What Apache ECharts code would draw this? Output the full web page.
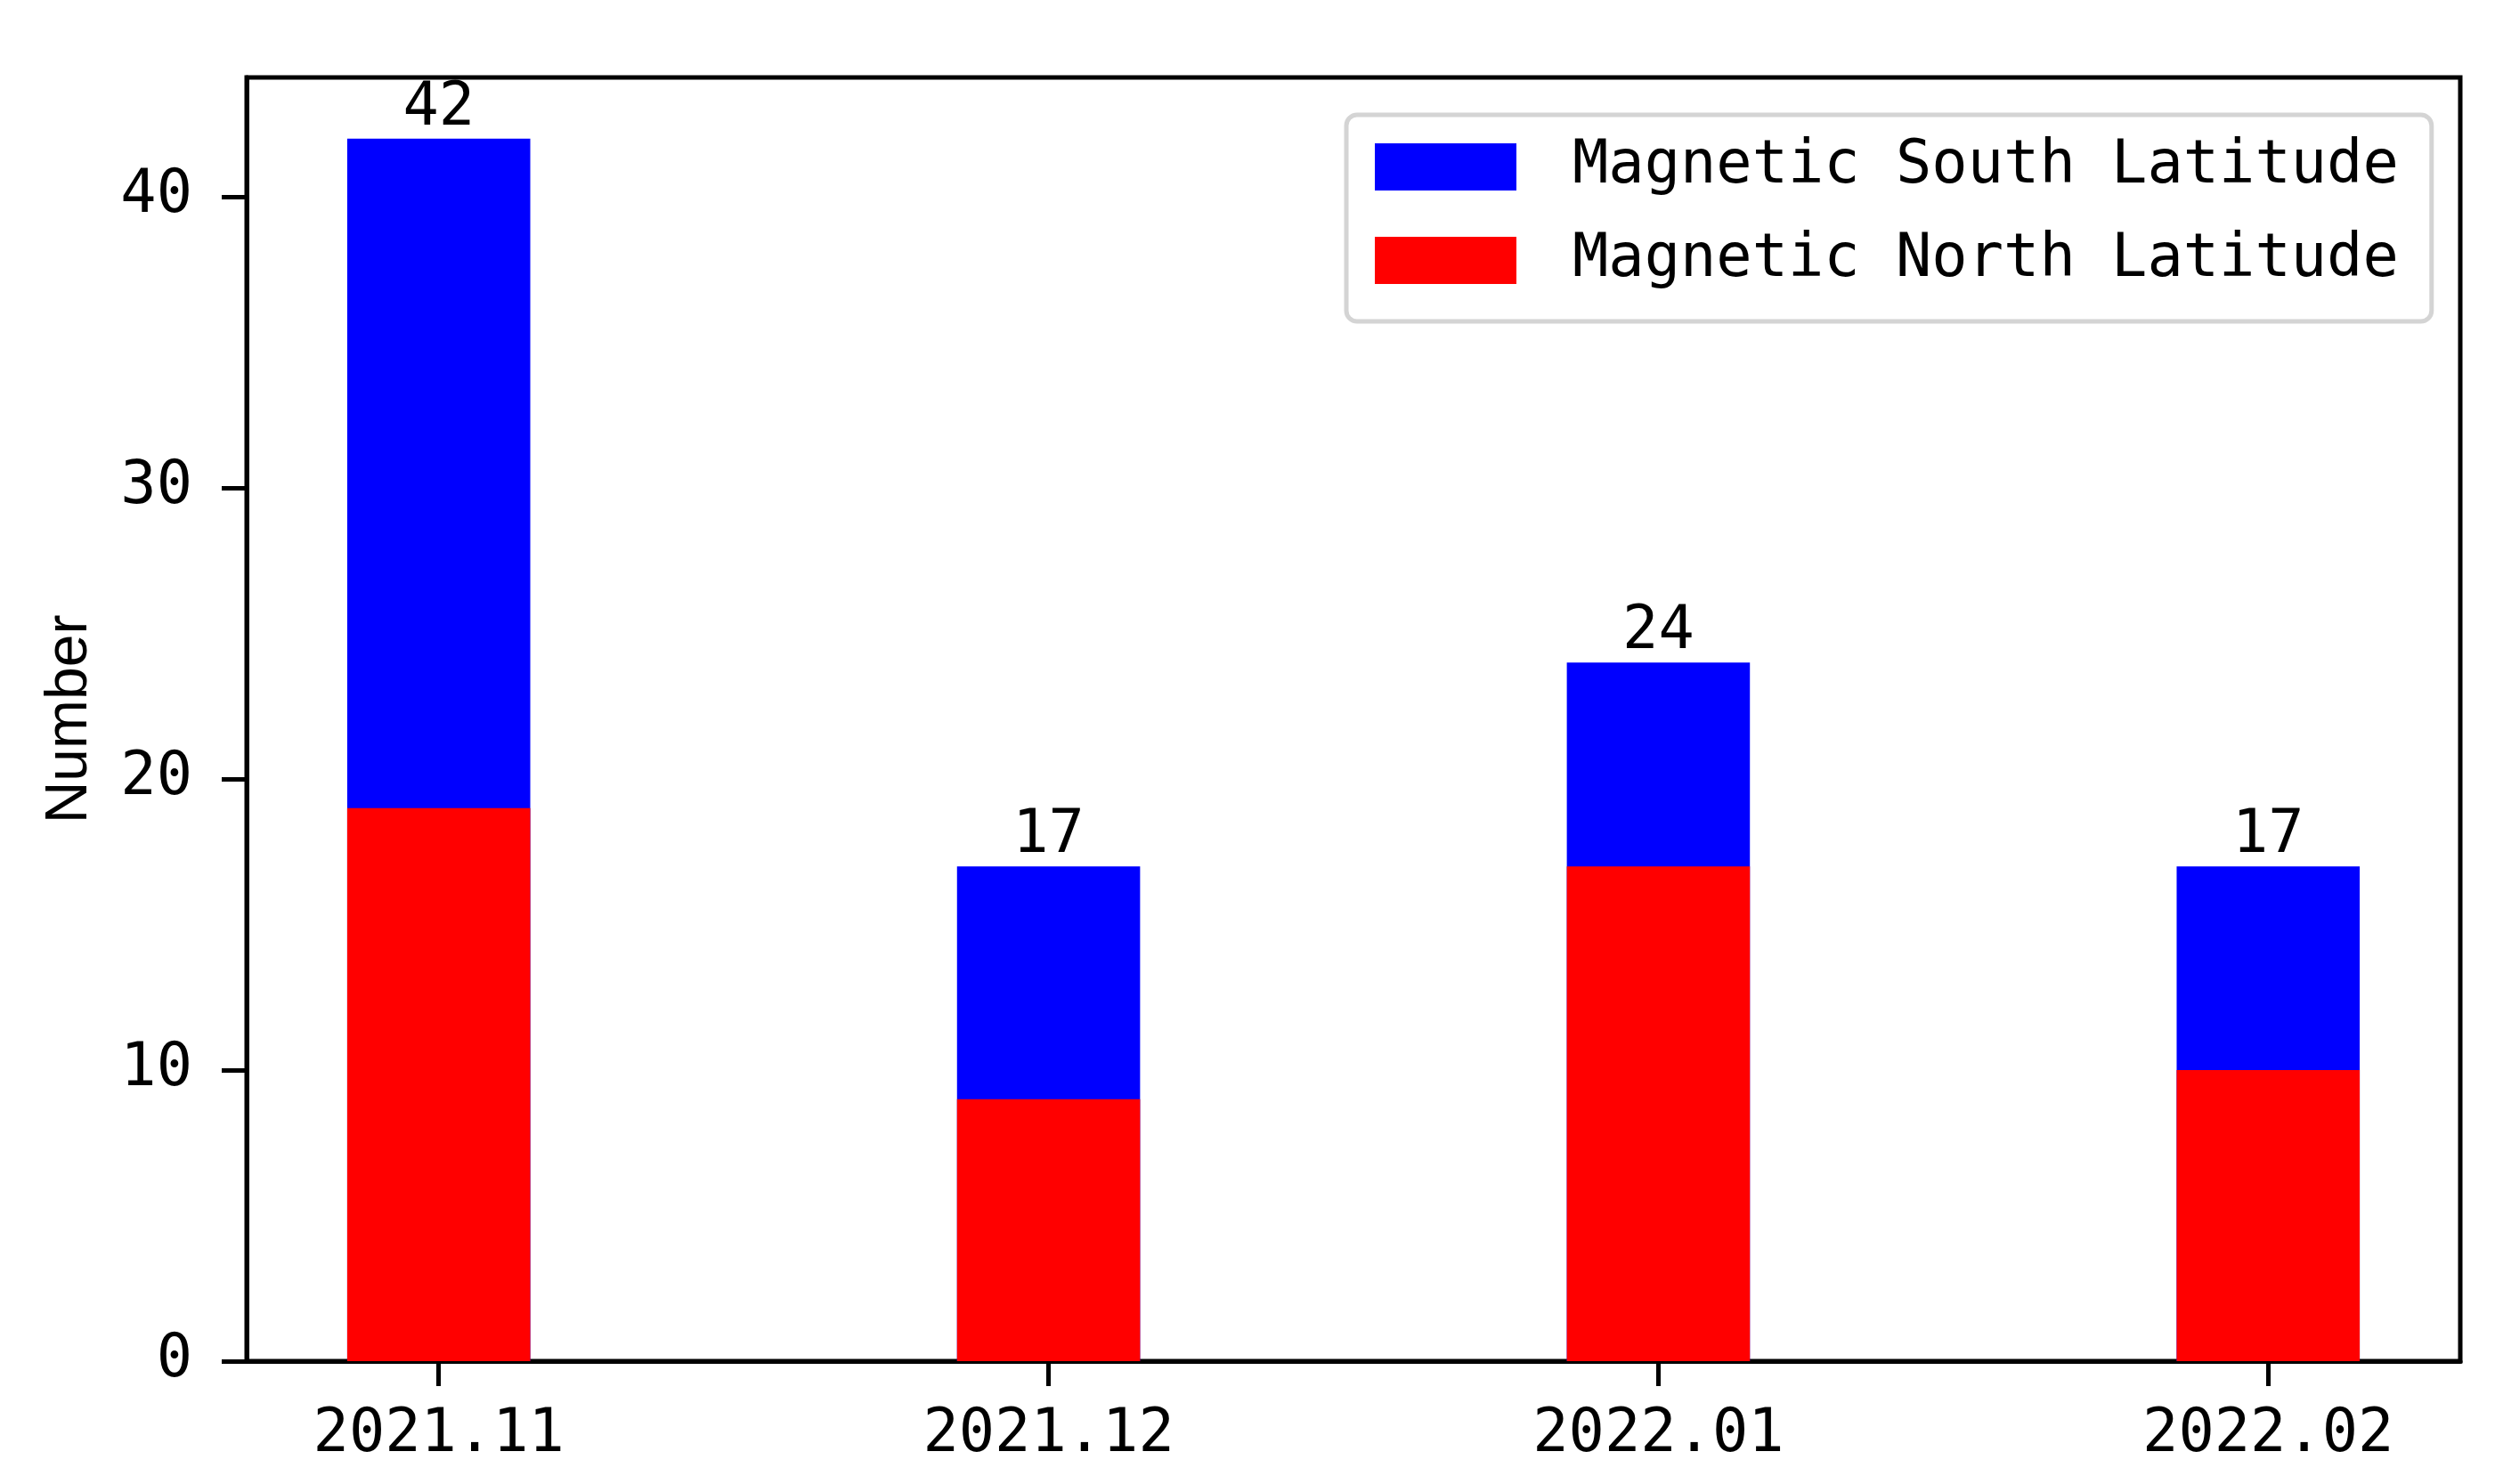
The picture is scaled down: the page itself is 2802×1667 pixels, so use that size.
<!DOCTYPE html>
<html>
<head>
<meta charset="utf-8">
<script src="https://cdn.jsdelivr.net/npm/echarts@6/dist/echarts.min.js"></script>
<style>html,body{margin:0;padding:0;background:#fff}#c{width:2802px;height:1667px}</style>
</head>
<body>
<div id="c"></div>
<script>
const categories = ['2021.11', '2021.12', '2022.01', '2022.02'];
const northValues = [19, 9, 17, 10];
const southValues = [23, 8, 7, 7];
const yTicks = [0, 10, 20, 30, 40];
const seriesNames = ['Magnetic South Latitude', 'Magnetic North Latitude'];

const totals = northValues.map((v, i) => v + southValues[i]);
const xPos = categories.map((c, i) => i);

const mono = 'DejaVu Sans Mono';
const chart = echarts.init(document.getElementById('c'));
chart.setOption({
  animation: false,
  backgroundColor: '#fff',
  grid: { left: 277, right: 39, top: 87, bottom: 138, show: true, borderColor: '#000', borderWidth: 5, containLabel: false },
  legend: {
    orient: 'vertical', left: 1512, top: 129,
    padding: [25, 37, 35, 32],
    itemWidth: 159, itemHeight: 53, itemGap: 38,
    borderColor: '#d4d4d4', borderWidth: 5, borderRadius: 12, backgroundColor: '#fff',
    icon: 'rect',
    data: seriesNames,
    textStyle: { fontFamily: mono, fontSize: 67, color: '#000', padding: [0, 0, 0, 58] }
  },
  xAxis: {
    type: 'value', min: -0.315, max: 3.315,
    axisLine: { show: true, onZero: false, lineStyle: { color: '#000', width: 5 } },
    axisTick: { show: true, length: 28, customValues: xPos, lineStyle: { color: '#000', width: 5 } },
    axisLabel: { customValues: xPos, formatter: v => categories[Math.round(v)], fontFamily: mono, fontSize: 67, color: '#000', margin: 50 },
    splitLine: { show: false }
  },
  yAxis: {
    type: 'value', min: 0, max: 44.1,
    name: 'Number', nameLocation: 'middle', nameGap: 165,
    nameTextStyle: { fontFamily: 'Liberation Sans', fontSize: 66, color: '#000' },
    axisLine: { show: true, onZero: false, lineStyle: { color: '#000', width: 5 } },
    axisTick: { show: true, length: 28, customValues: yTicks, lineStyle: { color: '#000', width: 5 } },
    axisLabel: { customValues: yTicks, fontFamily: mono, fontSize: 67, color: '#000', margin: 61 },
    splitLine: { show: false }
  },
  series: [
    {
      name: seriesNames[0], type: 'bar', barWidth: 205.6, barGap: '-100%',
      itemStyle: { color: '#0000ff' },
      data: xPos.map((x, i) => [x, totals[i]]),
      label: { show: true, position: 'top', distance: 0, formatter: p => p.value[1], fontFamily: mono, fontSize: 67, color: '#000' }
    },
    {
      name: seriesNames[1], type: 'bar', barWidth: 205.6, barGap: '-100%',
      itemStyle: { color: '#ff0000' },
      data: xPos.map((x, i) => [x, northValues[i]])
    }
  ]
});
</script>
</body>
</html>
